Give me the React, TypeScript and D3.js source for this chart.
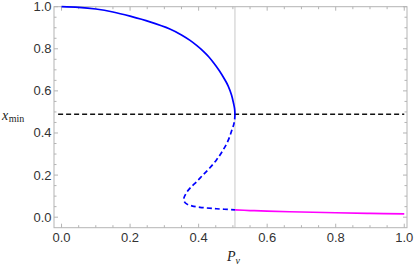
import React from "react";
import * as d3 from "d3";

// Data (Pv, x_min)
const upperPv = [0, 0.05, 0.1, 0.15, 0.2, 0.258, 0.316, 0.35, 0.375, 0.395, 0.414, 0.43, 0.443, 0.46, 0.474, 0.486, 0.496, 0.502, 0.505, 0.506];
const upperX = [1.0, 0.997, 0.989, 0.975, 0.955, 0.928, 0.894, 0.866, 0.84, 0.815, 0.788, 0.761, 0.735, 0.697, 0.66, 0.624, 0.58, 0.54, 0.515, 0.489];
const lowerPv = [0.506, 0.504, 0.497, 0.485, 0.468, 0.452, 0.433, 0.413, 0.394, 0.375, 0.363, 0.357, 0.358, 0.366, 0.38, 0.404, 0.452, 0.506];
const lowerX = [0.489, 0.45, 0.414, 0.36, 0.31, 0.272, 0.235, 0.201, 0.168, 0.138, 0.112, 0.09, 0.075, 0.062, 0.054, 0.047, 0.04, 0.035];
const magPv = [0.506, 0.55, 0.6, 0.7, 0.8, 0.9, 1.0];
const magX = [0.035, 0.0315, 0.0285, 0.0245, 0.021, 0.0183, 0.016];
const thresholdX = 0.489;
const thresholdRange = [-0.01, 1.0];
const criticalPv = 0.506;
const xTicks = [0, 0.2, 0.4, 0.6, 0.8, 1.0];
const yTicks = [0, 0.2, 0.4, 0.6, 0.8, 1.0];
const minorStep = 0.05;

export default function App() {
  const W = 415, H = 272;
  const x = d3.scaleLinear().domain([-0.022, 1.008]).range([54, 407]);
  const y = d3.scaleLinear().domain([-0.05, 1.0]).range([227.7, 6.7]);
  const [x0, x1] = x.range();
  const [y0, y1] = y.range();
  const line = d3
    .line<[number, number]>()
    .x((d) => x(d[0]))
    .y((d) => y(d[1]))
    .curve(d3.curveCatmullRom.alpha(0.5));
  const zip = (a: number[], b: number[]) => a.map((v, i) => [v, b[i]] as [number, number]);
  const minorX = d3.range(0, 1.0001, minorStep).filter((v) => !xTicks.some((t) => Math.abs(t - v) < 1e-6));
  const minorY = d3.range(0, 1.0001, minorStep).filter((v) => !yTicks.some((t) => Math.abs(t - v) < 1e-6));
  const fmt = d3.format(".1f");
  const frameColor = "#b4b4b4";
  const tickFont = "Liberation Sans, Arial, sans-serif";
  const serif = "Liberation Serif, Times New Roman, serif";
  return (
    <svg width={W} height={H} style={{ position: "absolute", left: 0, top: 0, background: "#fff" }}>
      {/* vertical critical line */}
      <line x1={x(criticalPv)} x2={x(criticalPv)} y1={y1} y2={y0} stroke="#c8c8c8" strokeWidth={1} />
      {/* frame */}
      <rect x={x0} y={y1} width={x1 - x0} height={y0 - y1} fill="none" stroke={frameColor} strokeWidth={1} />
      {/* ticks */}
      {xTicks.map((t) => (
        <g key={"xt" + t}>
          <line x1={x(t)} x2={x(t)} y1={y0} y2={y0 - 4} stroke={frameColor} />
          <line x1={x(t)} x2={x(t)} y1={y1} y2={y1 + 4} stroke={frameColor} />
          <text x={x(t)} y={241.5} textAnchor="middle" fontFamily={tickFont} fontSize={13} fill="#333">
            {fmt(t)}
          </text>
        </g>
      ))}
      {minorX.map((t) => (
        <g key={"xm" + t}>
          <line x1={x(t)} x2={x(t)} y1={y0} y2={y0 - 2.5} stroke={frameColor} />
          <line x1={x(t)} x2={x(t)} y1={y1} y2={y1 + 2.5} stroke={frameColor} />
        </g>
      ))}
      {yTicks.map((t) => (
        <g key={"yt" + t}>
          <line x1={x0} x2={x0 + 4} y1={y(t)} y2={y(t)} stroke={frameColor} />
          <line x1={x1} x2={x1 - 4} y1={y(t)} y2={y(t)} stroke={frameColor} />
          <text x={51.5} y={y(t) + 4.5} textAnchor="end" fontFamily={tickFont} fontSize={13} fill="#333">
            {fmt(t)}
          </text>
        </g>
      ))}
      {minorY.map((t) => (
        <g key={"ym" + t}>
          <line x1={x0} x2={x0 + 2.5} y1={y(t)} y2={y(t)} stroke={frameColor} />
          <line x1={x1} x2={x1 - 2.5} y1={y(t)} y2={y(t)} stroke={frameColor} />
        </g>
      ))}
      {/* threshold dashed line */}
      <line
        x1={x(thresholdRange[0])}
        x2={x(thresholdRange[1])}
        y1={y(thresholdX)}
        y2={y(thresholdX)}
        stroke="#111"
        strokeWidth={1.6}
        strokeDasharray="5,3"
      />
      {/* curves */}
      <path d={line(zip(upperPv, upperX)) || ""} fill="none" stroke="#0000ff" strokeWidth={1.7} />
      <path
        d={line(zip(lowerPv, lowerX)) || ""}
        fill="none"
        stroke="#0000ff"
        strokeWidth={1.7}
        strokeDasharray="5,3"
      />
      <path d={line(zip(magPv, magX)) || ""} fill="none" stroke="#ff00ff" strokeWidth={1.7} />
      {/* axis labels */}
      <text x={2} y={119.5} fontFamily={serif} fontSize={14} fill="#222">
        <tspan fontStyle="italic">x</tspan>
        <tspan fontSize={10} dy={2.5} dx={0.5}>min</tspan>
      </text>
      <text x={227} y={261} fontFamily={serif} fontSize={14} fill="#222">
        <tspan fontStyle="italic">P</tspan>
        <tspan fontStyle="italic" fontSize={10} dy={2.5}>v</tspan>
      </text>
    </svg>
  );
}
